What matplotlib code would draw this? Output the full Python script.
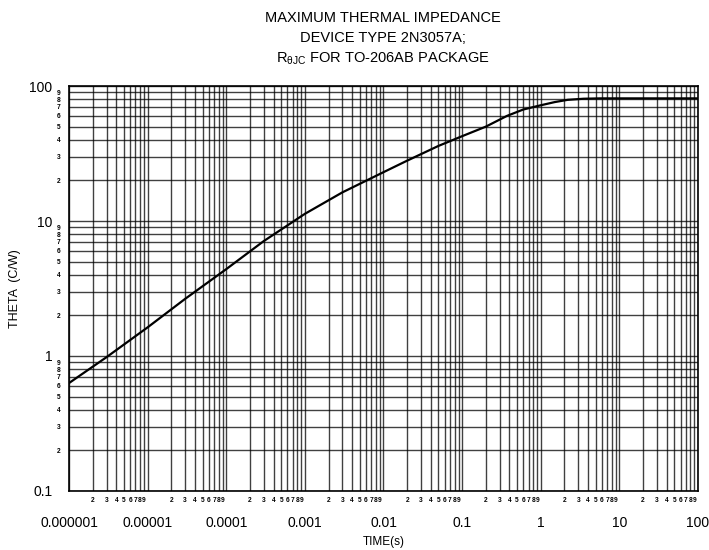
import matplotlib
matplotlib.use('Agg')
import matplotlib.pyplot as plt
from matplotlib.ticker import FixedLocator, FixedFormatter

plt.rcParams['font.family'] = ['Liberation Sans', 'DejaVu Sans']

# curve
time_s = [1e-6, 3e-6, 1e-5, 3e-5, 1e-4, 3e-4, 1e-3, 3e-3, 1e-2, 2e-2,
          5e-2, 0.1, 0.2, 0.37, 0.6, 1, 1.5, 2.2, 3.5, 5.7, 10, 100]
theta = [0.63, 0.98, 1.63, 2.65, 4.4, 7.1, 11.3, 16.3, 23.0, 28.0,
         36.0, 42.5, 50.0, 60.0, 67.0, 72.0, 76.0, 79.0, 80.5, 81.0, 81.0, 81.0]

x_major = [1e-6, 1e-5, 1e-4, 1e-3, 1e-2, 1e-1, 1, 10, 100]
x_major_labels = ['0.000001', '0.00001', '0.0001', '0.001', '0.01', '0.1', '1', '10', '100']
y_major = [0.1, 1, 10, 100]
y_major_labels = ['0.1', '1', '10', '100']
minor_digits = [2, 3, 4, 5, 6, 7, 8, 9]

fig = plt.figure(figsize=(7.09, 5.50), dpi=100)
ax = fig.add_axes([0.0973, 0.1073, 0.8872, 0.7363])

ax.loglog(time_s, theta, color='black', linewidth=1.6, zorder=3)
ax.set_xlim(1e-6, 100)
ax.set_ylim(0.1, 100)

x_minor = [d * m for m in x_major[:-1] for d in minor_digits]
y_minor = [d * m for m in y_major[:-1] for d in minor_digits]

ax.xaxis.set_major_locator(FixedLocator(x_major))
ax.xaxis.set_major_formatter(FixedFormatter(x_major_labels))
ax.xaxis.set_minor_locator(FixedLocator(x_minor))
ax.xaxis.set_minor_formatter(FixedFormatter([str(d) for m in x_major[:-1] for d in minor_digits]))
ax.yaxis.set_major_locator(FixedLocator(y_major))
ax.yaxis.set_major_formatter(FixedFormatter(y_major_labels))
ax.yaxis.set_minor_locator(FixedLocator(y_minor))
ax.yaxis.set_minor_formatter(FixedFormatter([str(d) for m in y_major[:-1] for d in minor_digits]))

ax.tick_params(which='major', length=0, labelsize=10)
ax.tick_params(axis='x', which='major', pad=18)
ax.tick_params(axis='y', which='major', pad=12)
ax.tick_params(which='minor', length=0, labelsize=4.8)
ax.tick_params(axis='x', which='minor', pad=4)
ax.tick_params(axis='y', which='minor', pad=6)
for lab in ax.get_xticklabels(minor=True) + ax.get_yticklabels(minor=True):
    lab.set_fontweight('bold')

ax.grid(True, which='both', color='black', linewidth=1.0, alpha=0.75)
for sp in ax.spines.values():
    sp.set_linewidth(1.2)

ax.set_ylabel('THETA  (C/W)', fontsize=9, labelpad=6,
              family=['Liberation Sans Narrow', 'Liberation Sans', 'DejaVu Sans'])
ax.set_xlabel('TIME(s)', fontsize=8.5, labelpad=4,
              family=['Liberation Sans Narrow', 'Liberation Sans', 'DejaVu Sans'])

fig.text(0.54, 0.968, 'MAXIMUM THERMAL IMPEDANCE', ha='center', va='center', fontsize=10.5)
fig.text(0.54, 0.931, 'DEVICE TYPE 2N3057A;', ha='center', va='center', fontsize=10.5)
fig.text(0.54, 0.894, r'R$_{\mathregular{\theta JC}}$ FOR TO-206AB PACKAGE', ha='center', va='center', fontsize=10.5)

fig.savefig('out.png', dpi=100, facecolor='white')
